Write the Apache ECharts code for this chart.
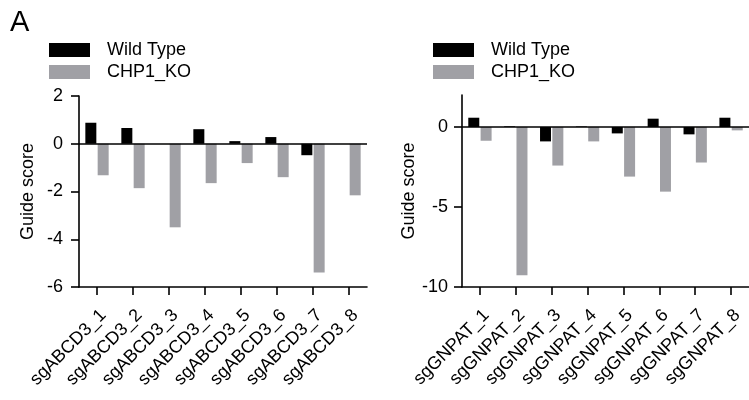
<!DOCTYPE html>
<html><head><meta charset="utf-8">
<script src="https://cdn.jsdelivr.net/npm/echarts@6/dist/echarts.min.js"></script>
<style>html,body{margin:0;padding:0;background:#fff}#c{width:749px;height:400px}</style>
</head><body><div id="c"></div>
<script>
const abcdCategories = ['sgABCD3_1','sgABCD3_2','sgABCD3_3','sgABCD3_4','sgABCD3_5','sgABCD3_6','sgABCD3_7','sgABCD3_8'];
const abcdWildType = [0.88, 0.66, 0, 0.61, 0.11, 0.28, -0.48, 0];
const abcdKO = [-1.32, -1.86, -3.50, -1.65, -0.81, -1.40, -5.39, -2.16];
const gnpatCategories = ['sgGNPAT_1','sgGNPAT_2','sgGNPAT_3','sgGNPAT_4','sgGNPAT_5','sgGNPAT_6','sgGNPAT_7','sgGNPAT_8'];
const gnpatWildType = [0.58, 0.04, -0.90, 0.03, -0.40, 0.52, -0.46, 0.58];
const gnpatKO = [-0.86, -9.27, -2.41, -0.90, -3.10, -4.04, -2.22, -0.21];
const leftTicks = [-6, -4, -2, 0, 2];
const rightTicks = [-10, -5, 0];
const seriesNames = ['Wild Type', 'CHP1_KO'];

const FONT = 'Liberation Sans, Arial, Helvetica, sans-serif';
const BLACK = '#000000', GRAY = '#a0a0a5';
const LW = 1.6;

function xAxis(gridIndex, cats) {
  return {
    type: 'category', gridIndex, data: cats, boundaryGap: true,
    axisLine: { show: true, onZero: false, lineStyle: { color: '#000', width: LW } },
    axisTick: { show: true, alignWithLabel: true, length: 8, lineStyle: { color: '#000', width: LW } },
    axisLabel: { rotate: 45, margin: 19, verticalAlign: 'top', color: '#000', fontSize: 18, fontFamily: FONT, interval: 0 },
    splitLine: { show: false }
  };
}
function yAxis(gridIndex, min, max, interval, ticks, nameGap, margin) {
  return {
    type: 'value', gridIndex, min, max, interval,
    name: 'Guide score', nameLocation: 'middle', nameGap,
    nameTextStyle: { color: '#000', fontSize: 18, fontFamily: FONT },
    axisLine: { show: true, onZero: false, lineStyle: { color: '#000', width: LW } },
    axisTick: { show: true, length: 8, customValues: ticks, lineStyle: { color: '#000', width: LW } },
    axisLabel: { color: '#000', fontSize: 18, fontFamily: FONT, margin, customValues: ticks },
    splitLine: { show: false }
  };
}
function bar(name, data, idx, color, zero) {
  const s = {
    name, type: 'bar', xAxisIndex: idx, yAxisIndex: idx, data,
    barWidth: 11, barGap: '12%', itemStyle: { color }
  };
  if (zero) {
    s.markLine = {
      silent: true, symbol: ['none', 'none'], label: { show: false },
      lineStyle: { color: '#000', width: LW, type: 'solid' },
      data: [{ yAxis: 0 }], animation: false
    };
  }
  return s;
}
function legend(left) {
  return {
    left, top: 36, orient: 'vertical', data: seriesNames,
    itemWidth: 41, itemHeight: 14, itemGap: 4, icon: 'rect',
    textStyle: { color: '#000', fontSize: 18, fontFamily: FONT, padding: [0, 0, 0, 12] }
  };
}
const chart = echarts.init(document.getElementById('c'), null, { renderer: 'canvas' });
chart.setOption({
  animation: false,
  backgroundColor: '#fff',
  title: { text: 'A', left: 5, top: 3, textStyle: { color: '#000', fontSize: 29, fontWeight: 'normal', fontFamily: FONT } },
  legend: [legend(44), legend(428)],
  grid: [
    { left: 79, top: 96, width: 288, height: 191 },
    { left: 462, top: 95, width: 288, height: 192 }
  ],
  xAxis: [xAxis(0, abcdCategories), xAxis(1, gnpatCategories)],
  yAxis: [yAxis(0, -6, 2, 2, leftTicks, 42, 16), yAxis(1, -10, 2, 5, rightTicks, 44, 14)],
  series: [
    bar(seriesNames[0], abcdWildType, 0, BLACK, true),
    bar(seriesNames[1], abcdKO, 0, GRAY, false),
    bar(seriesNames[0], gnpatWildType, 1, BLACK, true),
    bar(seriesNames[1], gnpatKO, 1, GRAY, false)
  ]
});
</script></body></html>
